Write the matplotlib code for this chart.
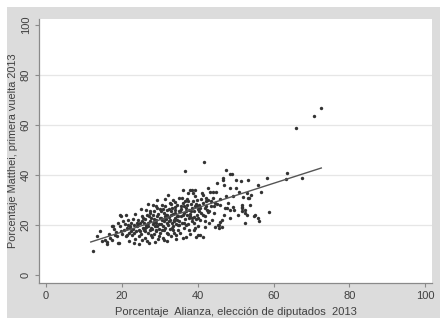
import matplotlib
matplotlib.use("Agg")
from matplotlib import pyplot as plt
from matplotlib.patches import Rectangle

# % Alianza (diputados 2013) vs % Matthei (primera vuelta 2013)
alianza = [
    12.3, 13.5, 14.2, 14.8, 15.6, 16.1, 16.5, 17.0, 17.3, 17.8, 18.2, 18.5, 18.9, 19.3, 19.5, 19.8,
    19.9, 20.0, 16.0, 17.6, 18.8, 19.0, 17.3, 19.5, 21.3,
    20.5, 20.8, 21.0, 21.5, 21.8, 22.0, 22.2, 22.5, 22.7, 23.0, 23.2, 23.5, 23.6, 23.8, 24.0, 24.2,
    24.4, 24.6, 24.8, 25.0, 25.0, 25.2, 25.4, 25.5, 20.2, 21.2, 22.9, 24.5, 23.3, 25.3, 22.4, 21.6,
    24.9, 23.9,
    25.8, 26.0, 26.2, 26.4, 26.6, 26.8, 27.0, 27.0, 27.2, 27.4, 27.6, 27.8, 27.9, 28.0, 28.2, 28.3,
    28.5, 28.8, 28.9, 29.0, 29.2, 29.3, 29.5, 29.6, 29.8, 30.0, 30.0, 26.3, 26.9, 27.5, 28.1, 28.6,
    29.1, 29.7, 25.9, 26.7, 27.3, 28.4, 29.4, 29.9, 27.7, 28.7, 26.1, 29.0, 27.1,
    30.2, 30.4, 30.5, 30.6, 30.8, 31.0, 31.0, 31.2, 31.3, 31.5, 31.6, 31.8, 32.0, 32.0, 32.2, 32.3,
    32.4, 32.6, 32.8, 33.0, 33.0, 33.2, 33.4, 33.5, 33.6, 33.8, 34.0, 34.0, 34.2, 34.4, 34.5, 34.6,
    34.8, 35.0, 35.0, 30.3, 30.9, 31.4, 31.9, 32.5, 32.9, 33.3, 33.7, 34.1, 34.7, 30.7, 31.1, 31.7,
    32.1, 32.7, 33.1, 33.9, 34.3, 34.9, 31.5,
    35.2, 35.3, 35.5, 35.6, 35.8, 36.0, 36.0, 36.2, 36.3, 36.5, 36.7, 36.7, 36.9, 37.0, 37.1, 37.3,
    37.5, 37.6, 37.8, 38.0, 38.0, 38.1, 38.3, 38.5, 38.6, 38.8, 38.9, 39.0, 39.2, 39.3, 39.5, 39.6,
    39.7, 39.9, 40.0, 40.0, 35.4, 35.9, 36.4, 36.8, 37.2, 37.7, 38.2, 38.7, 39.1, 39.4, 39.8, 37.4,
    36.1, 38.4,
    40.2, 40.3, 40.5, 40.6, 40.8, 41.0, 41.2, 41.5, 41.5, 41.7, 41.8, 42.0, 42.0, 42.3, 42.5, 42.8,
    42.8, 43.0, 43.3, 43.5, 43.7, 44.0, 44.1, 44.3, 44.6, 44.9, 45.0, 45.0, 45.4, 45.5, 40.4, 41.3,
    42.2, 43.1, 44.5,
    45.6, 46.0, 46.0, 46.3, 46.4, 46.6, 46.7, 47.0, 47.2, 47.4, 47.7, 48.4, 48.5, 48.5, 48.5, 49.0,
    49.4, 49.5, 50.0, 50.1, 45.8, 47.5, 48.0, 46.9, 49.2,
    50.7, 50.8, 51.5, 51.6, 51.6, 51.6, 51.7, 52.0, 52.4, 52.5, 52.6, 53.0, 53.1, 53.2, 53.3, 53.5,
    53.9, 54.0, 54.9, 55.1, 55.9, 56.0, 56.2, 56.8, 58.2, 58.7,
    63.5, 63.3, 67.5, 65.9, 70.8, 72.6,
    22.1, 23.1, 24.3, 25.6, 26.5, 27.4, 28.6, 29.3, 30.1, 30.8, 31.3, 31.9, 32.4, 32.9, 33.5, 34.1,
    34.6, 35.1, 35.7, 36.3, 36.9, 37.4, 37.9, 38.5, 39.1, 39.6, 40.1, 40.7, 41.4, 42.1, 42.7, 43.4,
    44.2, 21.4, 26.2, 28.9, 33.8, 36.6, 39.3, 41.9,
]
matthei = [
    9.7, 15.5, 17.6, 13.8, 14.0, 13.2, 16.5, 15.0, 14.2, 18.5, 16.0, 17.2, 13.0, 12.8, 19.5, 17.8,
    23.5, 16.5, 12.5, 19.8, 15.5, 21.0, 19.6, 24.0, 18.7,
    18.0, 20.5, 15.5, 22.0, 17.0, 13.5, 19.5, 21.0, 16.0, 18.5, 20.0, 24.5, 14.5, 17.5, 19.5, 22.0,
    12.5, 18.0, 20.8, 16.5, 26.5, 21.5, 14.0, 19.0, 21.5, 24.0, 22.5, 15.5, 13.0, 23.5, 17.8, 20.2,
    17.8, 21.0,
    18.2, 22.5, 15.0, 20.0, 24.0, 17.0, 19.5, 28.5, 13.0, 21.5, 16.0, 23.0, 15.3, 18.5, 20.5, 28.0,
    25.5, 13.3, 17.5, 22.0, 30.0, 19.5, 14.5, 24.5, 20.5, 17.0, 26.5, 26.0, 21.0, 18.0, 24.0, 16.5,
    21.0, 18.3, 20.8, 13.8, 25.0, 22.5, 26.8, 15.5, 19.0, 19.8, 17.8, 27.8, 23.8,
    20.5, 23.0, 18.0, 28.0, 15.0, 14.0, 21.5, 25.0, 19.0, 30.5, 22.5, 17.0, 24.0, 13.5, 20.0, 32.0,
    26.5, 18.5, 22.0, 28.5, 15.5, 21.0, 24.5, 19.5, 30.0, 17.0, 23.0, 26.0, 20.5, 14.5, 28.0, 22.0,
    18.0, 25.5, 31.0, 25.5, 26.5, 27.5, 20.8, 23.2, 25.8, 27.0, 21.8, 24.8, 20.0, 22.0, 18.0, 24.2,
    16.5, 29.0, 19.0, 29.3, 16.2, 23.8, 22.8,
    20.0, 17.0, 27.5, 23.5, 21.0, 29.0, 15.0, 34.0, 25.0, 19.0, 41.7, 22.5, 27.0, 15.3, 24.0, 30.5,
    20.5, 26.0, 18.0, 34.0, 16.3, 23.5, 28.5, 34.0, 21.5, 32.7, 18.0, 25.5, 27.5, 34.0, 22.5, 15.3,
    30.0, 24.0, 26.5, 19.5, 25.8, 31.0, 27.8, 20.0, 28.0, 23.0, 25.8, 29.5, 20.8, 31.8, 27.8, 33.0,
    24.0, 22.8,
    16.0, 28.0, 22.0, 16.0, 30.5, 25.0, 33.0, 15.3, 32.0, 45.1, 27.0, 19.3, 23.5, 29.5, 26.0, 30.0,
    34.7, 21.0, 33.3, 27.5, 22.0, 33.3, 31.0, 25.0, 19.3, 33.3, 36.7, 28.5, 20.0, 18.7, 25.5, 28.8,
    27.5, 25.8, 29.0,
    19.9, 28.0, 21.3, 19.3, 22.0, 38.0, 38.8, 36.0, 26.7, 42.0, 26.7, 34.7, 40.4, 26.0, 22.7, 40.4,
    27.3, 26.0, 38.0, 34.7, 30.5, 31.5, 29.0, 24.0, 31.5,
    24.0, 33.3, 37.6, 28.0, 26.7, 25.7, 27.3, 31.3, 26.0, 21.0, 24.7, 32.7, 24.0, 30.9, 38.0, 30.7,
    28.0, 32.0, 23.6, 24.0, 22.7, 36.0, 21.6, 33.3, 38.7, 25.3,
    40.9, 38.6, 39.0, 58.7, 63.6, 66.8,
    18.8, 16.8, 20.3, 22.8, 19.2, 25.8, 21.2, 23.5, 22.8, 19.8, 23.8, 26.2, 21.5, 24.2, 18.2, 27.2,
    23.5, 21.8, 26.3, 20.8, 25.5, 29.8, 24.5, 27.0, 23.2, 28.5, 23.0, 26.8, 24.2, 30.8, 25.2, 29.5,
    27.8, 16.2, 19.0, 18.0, 22.2, 29.5, 18.8, 21.5,
]

# fitted line end points
fit_x = [11.8, 72.6]
fit_y = [13.2, 42.8]

xticks = [0, 20, 40, 60, 80, 100]
yticks = [0, 20, 40, 60, 80, 100]

plt.rcParams['font.family'] = ['Liberation Sans', 'DejaVu Sans']

fig = plt.figure(figsize=(4.4, 3.21), dpi=100)
fig.patch.set_facecolor('white')
# gray Stata-style graph region, kept behind the axes
bg = Rectangle((7 / 440, 3 / 321), 433 / 440, 311 / 321,
               transform=fig.transFigure, facecolor='#dcdcdc',
               edgecolor='none', zorder=-10)
fig.add_artist(bg)

ax = fig.add_axes([39 / 440, 38 / 321, 393 / 440, 264 / 321])
ax.set_zorder(1)
ax.set_facecolor('white')

ax.scatter(alianza, matthei, s=6, color='#333333', linewidths=0, zorder=3)
ax.plot(fit_x, fit_y, color='#555555', linewidth=1.0, zorder=4)

ax.set_xlim(-1.85, 101.8)
ax.set_ylim(-3.2, 102.4)
ax.set_xticks(xticks)
ax.set_yticks(yticks)
ax.set_yticklabels([str(t) for t in yticks], rotation=90, va='center')

for t in [20, 40, 60, 80]:
    ax.axhline(t, color='#e6e6e6', linewidth=0.9, zorder=1)

for s in ['top', 'right']:
    ax.spines[s].set_visible(False)
for s in ['left', 'bottom']:
    ax.spines[s].set_color('#8a8a8a')
    ax.spines[s].set_linewidth(0.9)

ax.tick_params(axis='both', length=3, width=0.8, color='#8a8a8a',
               labelsize=8, labelcolor='#404040', pad=3)

ax.set_xlabel('Porcentaje  Alianza, elección de diputados  2013',
              fontsize=8, color='#404040', labelpad=4)
ax.set_ylabel('Porcentaje Matthei, primera vuelta 2013',
              fontsize=7.8, color='#404040', labelpad=2)

plt.savefig('out.png', dpi=100)
